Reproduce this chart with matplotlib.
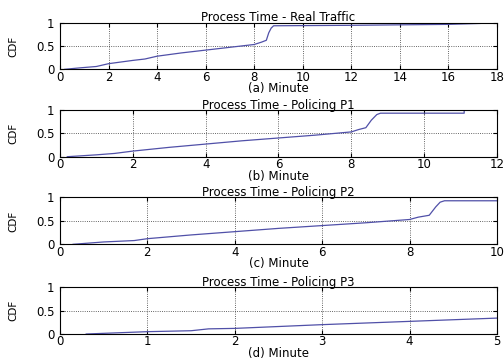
import matplotlib
matplotlib.use("Agg")
import matplotlib.pyplot as plt

plt.rcParams['font.family'] = ['DejaVu Sans']

titles = ["Process Time - Real Traffic", "Process Time - Policing P1",
          "Process Time - Policing P2", "Process Time - Policing P3"]
xlabels = ["(a) Minute", "(b) Minute", "(c) Minute", "(d) Minute"]
xmax = [18, 12, 10, 5]
xstep = [2, 2, 2, 1]

# CDF curves (minutes, cumulative fraction)
x_a = [0.2, 0.8, 1.5, 2.0, 3.0, 3.5, 4.0, 5.0, 6.0, 7.0, 8.0, 8.3, 8.5, 8.6, 8.7, 8.8, 12.0, 16.0, 17.3]
y_a = [0.0, 0.03, 0.06, 0.12, 0.19, 0.22, 0.28, 0.35, 0.41, 0.47, 0.53, 0.58, 0.62, 0.78, 0.88, 0.93, 0.94, 0.96, 0.98]
x_b = [0.2, 1.0, 1.5, 2.0, 3.0, 4.0, 5.0, 6.0, 7.0, 8.0, 8.2, 8.4, 8.55, 8.7, 8.8, 11.1, 11.1]
y_b = [0.0, 0.04, 0.07, 0.12, 0.2, 0.27, 0.34, 0.4, 0.46, 0.53, 0.58, 0.62, 0.78, 0.9, 0.93, 0.93, 0.98]
x_c = [0.3, 1.0, 1.7, 2.0, 3.0, 4.0, 5.0, 6.0, 7.0, 8.0, 8.2, 8.45, 8.6, 8.7, 8.8, 10.0]
y_c = [0.0, 0.05, 0.08, 0.12, 0.2, 0.27, 0.34, 0.4, 0.46, 0.53, 0.58, 0.62, 0.8, 0.9, 0.93, 0.93]
x_d = [0.3, 1.0, 1.5, 1.7, 2.0, 3.0, 4.0, 5.0]
y_d = [0.0, 0.05, 0.07, 0.11, 0.12, 0.2, 0.27, 0.34]

xs = [x_a, x_b, x_c, x_d]
ys = [y_a, y_b, y_c, y_d]

fig = plt.figure(figsize=(5.04, 3.6), dpi=100)
bottoms = [0.8075, 0.5647, 0.3214, 0.0722]
for i in range(4):
    ax = fig.add_axes([0.119, bottoms[i], 0.867, 0.13])
    ax.plot(xs[i], ys[i], color="#5050a8", linewidth=0.9)
    ax.set_xlim(0, xmax[i])
    ax.set_ylim(0, 1)
    ax.set_xticks(range(0, xmax[i] + 1, xstep[i]))
    ax.set_yticks([0, 0.5, 1])
    ax.set_yticklabels(["0", "0.5", "1"])
    ax.grid(True, linestyle=":", color="#333333", linewidth=0.6)
    ax.tick_params(direction="in", top=True, right=True, labelsize=8.5, length=3)
    ax.tick_params(axis="x", pad=1)
    ax.tick_params(axis="y", pad=4)
    ax.set_title(titles[i], fontsize=8.5, pad=1)
    ax.set_xlabel(xlabels[i], fontsize=8.5, labelpad=-1)
    ax.set_ylabel("CDF", fontsize=7.5)
    ax.yaxis.set_label_coords(-0.095, 0.5)
    for s in ax.spines.values():
        s.set_linewidth(0.8)

fig.savefig("out.png", dpi=100)
